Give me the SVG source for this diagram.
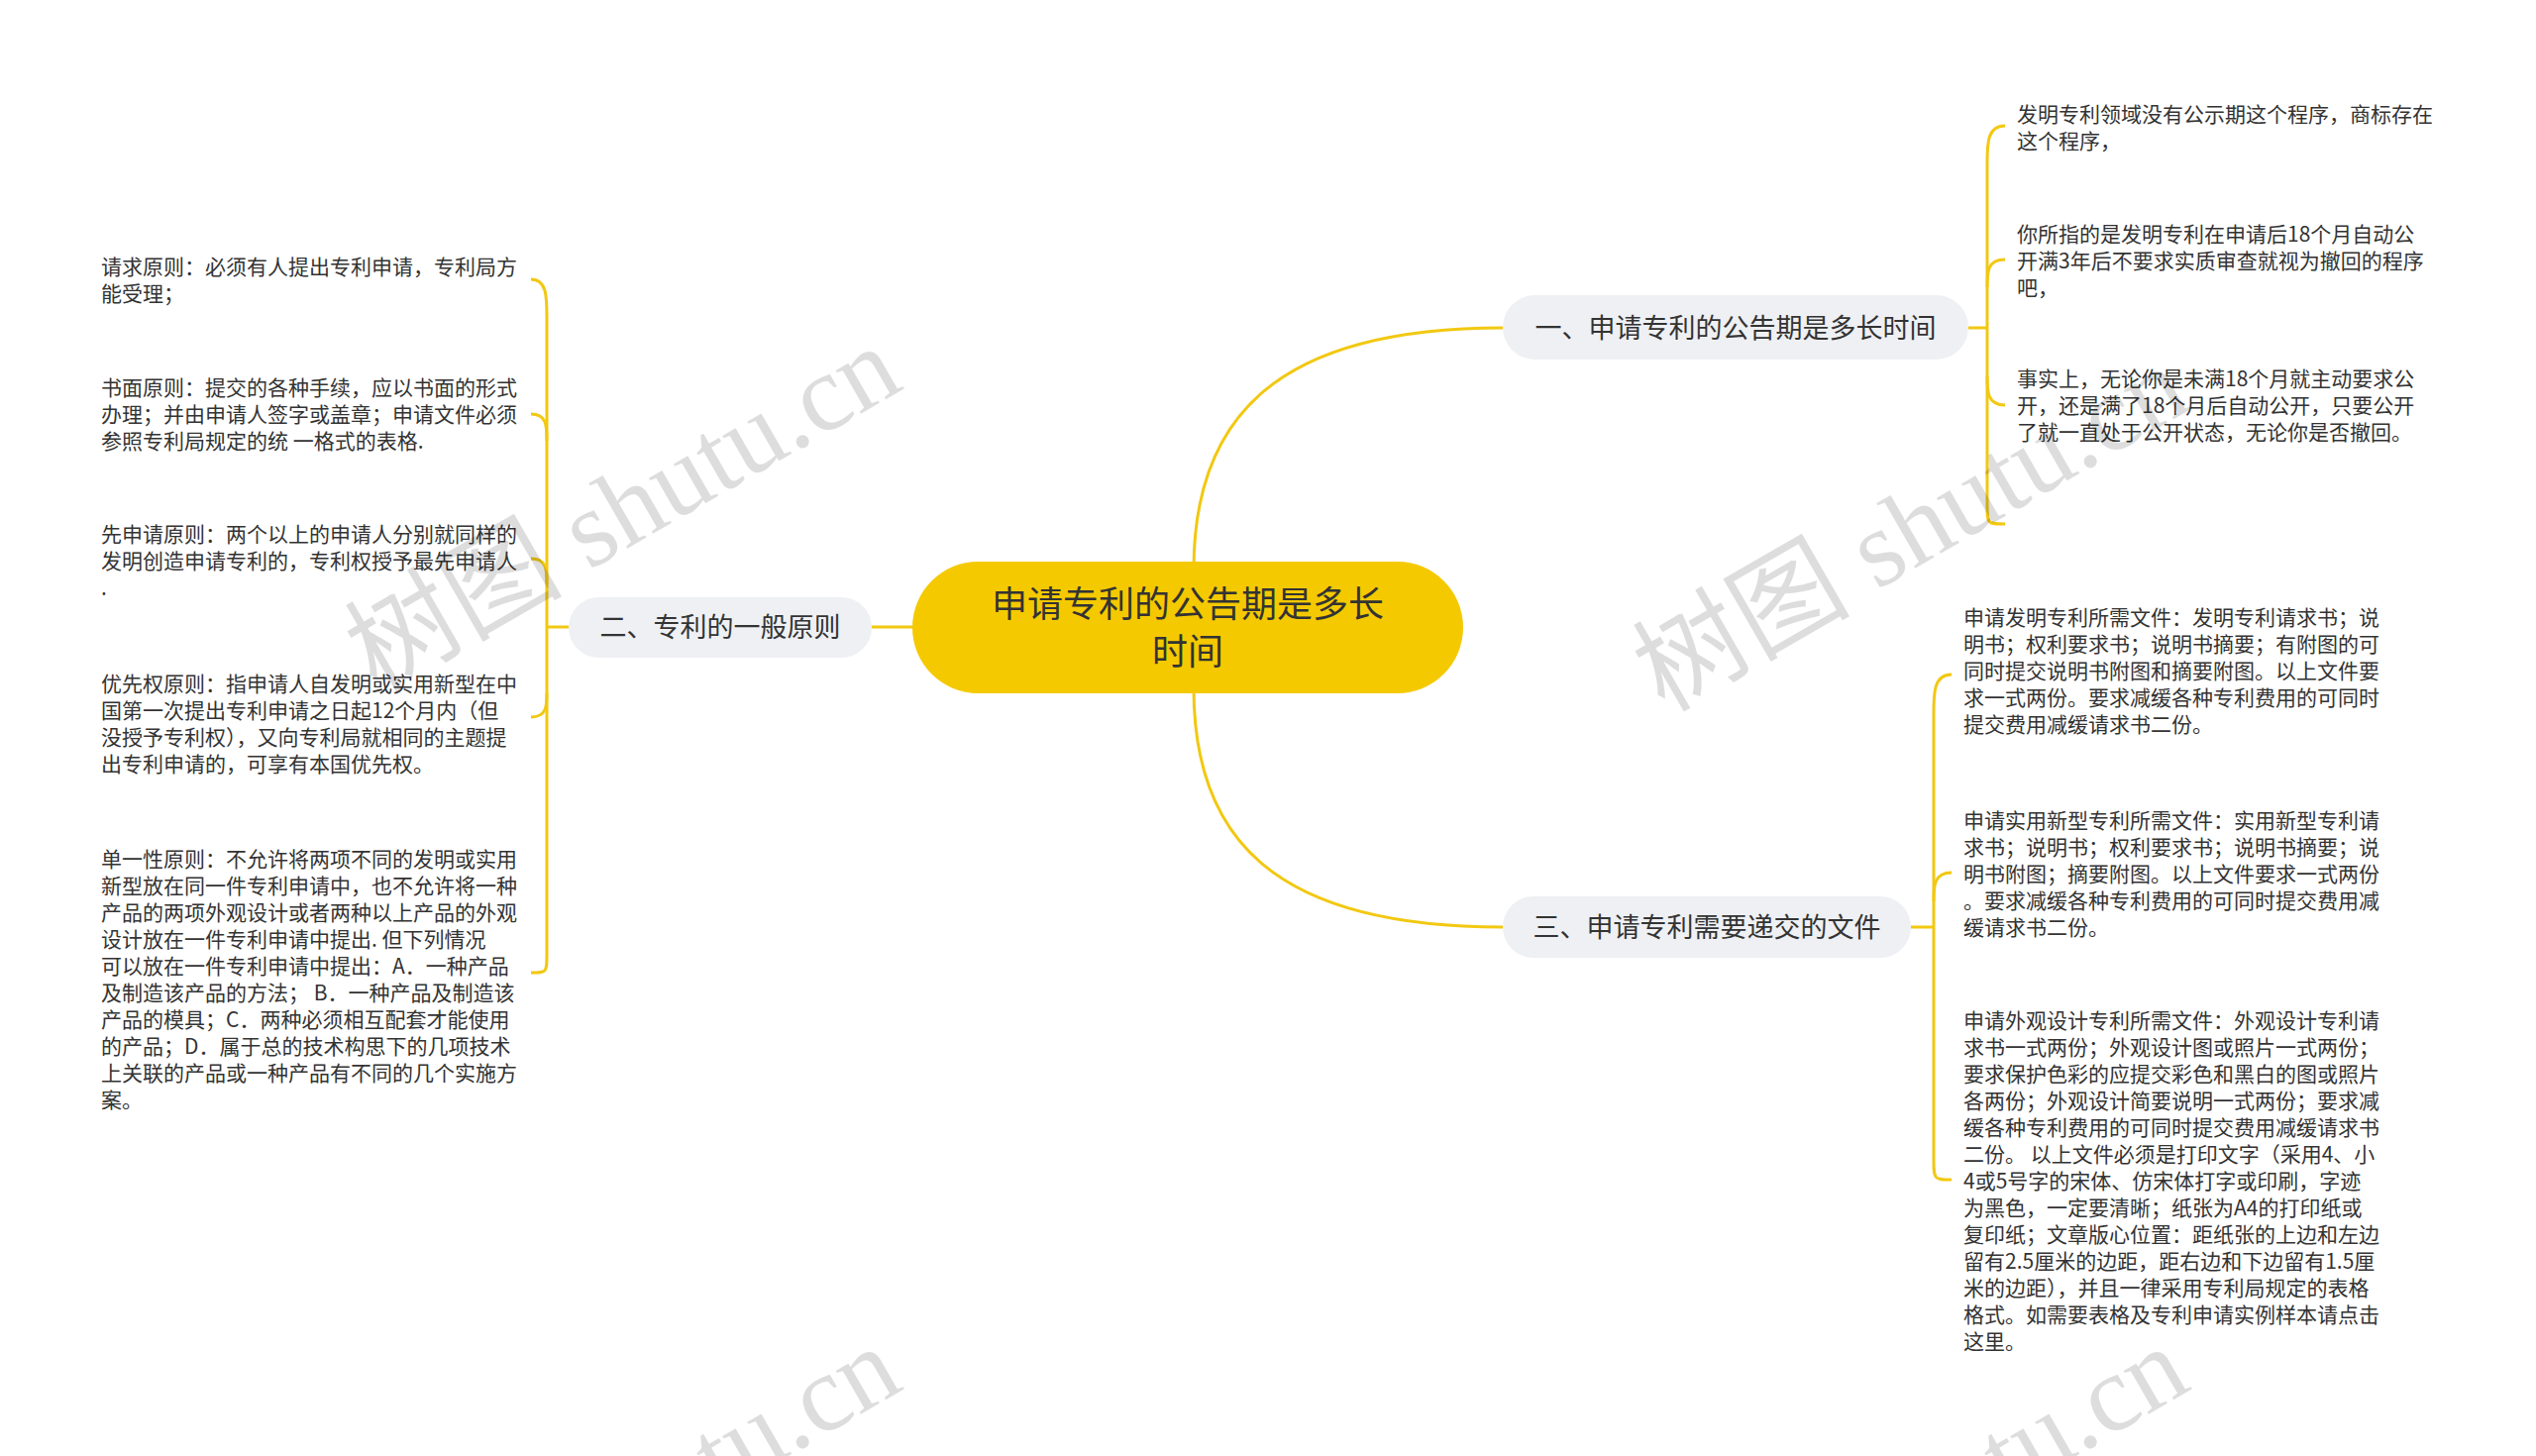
<svg xmlns="http://www.w3.org/2000/svg" width="2560" height="1470" viewBox="0 0 2560 1470">
<style>
.leaf{font-family:"Noto Sans CJK SC","Noto Sans",sans-serif;font-size:21px;fill:#333}
.br{font-family:"Noto Sans CJK SC","Noto Sans",sans-serif;font-size:27px;fill:#333}
.ctr{font-family:"Noto Sans CJK SC","Noto Sans",sans-serif;font-size:36px;fill:#333}
.pill{fill:#eef0f3}
.ln{fill:none;stroke:#f2c811;stroke-width:3}
.wm{font-family:"Liberation Serif","Noto Sans CJK SC",serif;font-size:110px;fill:#000;opacity:0.13}
</style>
<rect width="2560" height="1470" fill="#fff"/>
<g id="connectors">
<path class="ln" d="M1205,575 C1205,420 1290,331 1517,331"/>
<path class="ln" d="M1205,695 C1205,850 1290,936 1517,936"/>
<path class="ln" d="M921,633 L880,633"/>
<path class="ln" d="M574,633 L552,633"/>
<path class="ln" d="M536,282 C552,282 552,300 552,320 L552,964 C552,982 552,982 536,982"/>
<path class="ln" d="M536,418 C552,418 552,430 552,445"/>
<path class="ln" d="M536,564 C552,564 552,575 552,590"/>
<path class="ln" d="M536,724 C552,724 552,712 552,700"/>
<path class="ln" d="M1987,331 L2006,331"/>
<path class="ln" d="M2024,127 C2006,127 2006,145 2006,165 L2006,510 C2006,529 2006,529 2024,529"/>
<path class="ln" d="M2024,262 C2006,262 2006,275 2006,290"/>
<path class="ln" d="M2024,409 C2006,409 2006,395 2006,380"/>
<path class="ln" d="M1929,936 L1952,936"/>
<path class="ln" d="M1970,681 C1952,681 1952,700 1952,720 L1952,1170 C1952,1191 1952,1191 1970,1191"/>
<path class="ln" d="M1970,881 C1952,881 1952,895 1952,910"/>
</g>
<g id="center">
<rect x="921" y="567" width="556" height="133" rx="66.5" fill="#f5c900"/>
<text class="ctr" x="1199" y="623" text-anchor="middle">申请专利的公告期是多长</text>
<text class="ctr" x="1199" y="671" text-anchor="middle">时间</text>
</g>
<g id="b1">
<rect class="pill" x="1517" y="298" width="470" height="65" rx="32.5"/>
<text class="br" x="1752" y="341" text-anchor="middle">一、申请专利的公告期是多长时间</text>
</g>
<g id="b2">
<rect class="pill" x="574" y="603" width="306" height="61" rx="30.5"/>
<text class="br" x="727" y="643" text-anchor="middle">二、专利的一般原则</text>
</g>
<g id="b3">
<rect class="pill" x="1517" y="905" width="412" height="62" rx="31"/>
<text class="br" x="1723" y="946" text-anchor="middle">三、申请专利需要递交的文件</text>
</g>
<g id="l1"><text class="leaf" x="102" y="277"><tspan x="102">请求原则：必须有人提出专利申请，专利局方</tspan><tspan x="102" dy="27">能受理；</tspan></text></g>
<g id="l2"><text class="leaf" x="102" y="399"><tspan x="102">书面原则：提交的各种手续，应以书面的形式</tspan><tspan x="102" dy="27">办理；并由申请人签字或盖章；申请文件必须</tspan><tspan x="102" dy="27">参照专利局规定的统 一格式的表格.</tspan></text></g>
<g id="l3"><text class="leaf" x="102" y="547"><tspan x="102">先申请原则：两个以上的申请人分别就同样的</tspan><tspan x="102" dy="27">发明创造申请专利的，专利权授予最先申请人</tspan><tspan x="102" dy="27">.</tspan></text></g>
<g id="l4"><text class="leaf" x="102" y="698"><tspan x="102">优先权原则：指申请人自发明或实用新型在中</tspan><tspan x="102" dy="27">国第一次提出专利申请之日起12个月内（但</tspan><tspan x="102" dy="27">没授予专利权），又向专利局就相同的主题提</tspan><tspan x="102" dy="27">出专利申请的，可享有本国优先权。</tspan></text></g>
<g id="l5"><text class="leaf" x="102" y="875"><tspan x="102">单一性原则：不允许将两项不同的发明或实用</tspan><tspan x="102" dy="27">新型放在同一件专利申请中，也不允许将一种</tspan><tspan x="102" dy="27">产品的两项外观设计或者两种以上产品的外观</tspan><tspan x="102" dy="27">设计放在一件专利申请中提出.  但下列情况</tspan><tspan x="102" dy="27">可以放在一件专利申请中提出：A．一种产品</tspan><tspan x="102" dy="27">及制造该产品的方法；  B．一种产品及制造该</tspan><tspan x="102" dy="27">产品的模具；C．两种必须相互配套才能使用</tspan><tspan x="102" dy="27">的产品；D．属于总的技术构思下的几项技术</tspan><tspan x="102" dy="27">上关联的产品或一种产品有不同的几个实施方</tspan><tspan x="102" dy="27">案。</tspan></text></g>
<g id="r1"><text class="leaf" x="2036" y="123"><tspan x="2036">发明专利领域没有公示期这个程序，商标存在</tspan><tspan x="2036" dy="27">这个程序，</tspan></text></g>
<g id="r2"><text class="leaf" x="2036" y="244"><tspan x="2036">你所指的是发明专利在申请后18个月自动公</tspan><tspan x="2036" dy="27">开满3年后不要求实质审查就视为撤回的程序</tspan><tspan x="2036" dy="27">吧，</tspan></text></g>
<g id="r3"><text class="leaf" x="2036" y="390"><tspan x="2036">事实上，无论你是未满18个月就主动要求公</tspan><tspan x="2036" dy="27">开，还是满了18个月后自动公开，只要公开</tspan><tspan x="2036" dy="27">了就一直处于公开状态，无论你是否撤回。</tspan></text></g>
<g id="r4"><text class="leaf" x="1982" y="631"><tspan x="1982">申请发明专利所需文件：发明专利请求书；说</tspan><tspan x="1982" dy="27">明书；权利要求书；说明书摘要；有附图的可</tspan><tspan x="1982" dy="27">同时提交说明书附图和摘要附图。以上文件要</tspan><tspan x="1982" dy="27">求一式两份。要求减缓各种专利费用的可同时</tspan><tspan x="1982" dy="27">提交费用减缓请求书二份。</tspan></text></g>
<g id="r5"><text class="leaf" x="1982" y="836"><tspan x="1982">申请实用新型专利所需文件：实用新型专利请</tspan><tspan x="1982" dy="27">求书；说明书；权利要求书；说明书摘要；说</tspan><tspan x="1982" dy="27">明书附图；摘要附图。以上文件要求一式两份</tspan><tspan x="1982" dy="27">。要求减缓各种专利费用的可同时提交费用减</tspan><tspan x="1982" dy="27">缓请求书二份。</tspan></text></g>
<g id="r6"><text class="leaf" x="1982" y="1038"><tspan x="1982">申请外观设计专利所需文件：外观设计专利请</tspan><tspan x="1982" dy="27">求书一式两份；外观设计图或照片一式两份；</tspan><tspan x="1982" dy="27">要求保护色彩的应提交彩色和黑白的图或照片</tspan><tspan x="1982" dy="27">各两份；外观设计简要说明一式两份；要求减</tspan><tspan x="1982" dy="27">缓各种专利费用的可同时提交费用减缓请求书</tspan><tspan x="1982" dy="27">二份。 以上文件必须是打印文字（采用4、小</tspan><tspan x="1982" dy="27">4或5号字的宋体、仿宋体打字或印刷，字迹</tspan><tspan x="1982" dy="27">为黑色，一定要清晰；纸张为A4的打印纸或</tspan><tspan x="1982" dy="27">复印纸；文章版心位置：距纸张的上边和左边</tspan><tspan x="1982" dy="27">留有2.5厘米的边距，距右边和下边留有1.5厘</tspan><tspan x="1982" dy="27">米的边距），并且一律采用专利局规定的表格</tspan><tspan x="1982" dy="27">格式。如需要表格及专利申请实例样本请点击</tspan><tspan x="1982" dy="27">这里。</tspan></text></g>
<g id="watermarks">
<text class="wm" transform="translate(380,700) rotate(-30)">树图 shutu.cn</text>
<text class="wm" transform="translate(1680,720) rotate(-30)">树图 shutu.cn</text>
<text class="wm" transform="translate(380,1710) rotate(-30)">树图 shutu.cn</text>
<text class="wm" transform="translate(1680,1710) rotate(-30)">树图 shutu.cn</text>
</g>
</svg>
